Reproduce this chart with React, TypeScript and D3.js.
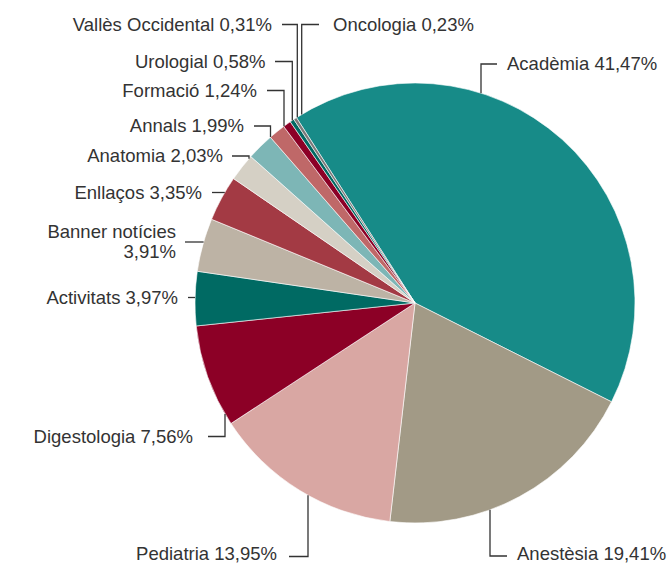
import React from 'react';
import * as d3 from 'd3';

// Slice data, clockwise from Acadèmia
const categories = [
  'Acadèmia', 'Anestèsia', 'Pediatria', 'Digestologia', 'Activitats',
  'Banner notícies', 'Enllaços', 'Anatomia', 'Annals', 'Formació',
  'Urologial', 'Vallès Occidental', 'Oncologia',
];
const values = [41.47, 19.41, 13.95, 7.56, 3.97, 3.91, 3.35, 2.03, 1.99, 1.24, 0.58, 0.31, 0.23];
const colors = [
  '#178b88', '#a29a86', '#d9a7a3', '#8c0026', '#006a63',
  '#bdb3a5', '#a33a44', '#d5d0c5', '#7db6b6', '#bf6868',
  '#8c0026', '#006a63', '#7a7a7a',
];

// label layout: text anchor x, line y, where the leader begins, elbow x (null = straight to pie)
const labelLayout = [
  { side: 'right', x: 507, y: 64, from: 497, elbow: 481 },
  { side: 'right', x: 517, y: 556, from: 507, elbow: 490, ty: 554 },
  { side: 'left', x: 277, y: 556.5, from: 289, elbow: 308, ty: 554 },
  { side: 'left', x: 193, y: 436.5, from: 208, elbow: 225 },
  { side: 'left', x: 178, y: 297.5, from: 188, elbow: null },
  { side: 'left', x: 176, y: 242, from: 185, elbow: null, lines: 2 },
  { side: 'left', x: 202, y: 192.5, from: 212, elbow: null },
  { side: 'left', x: 223, y: 156, from: 232, elbow: 249 },
  { side: 'left', x: 244, y: 126, from: 254, elbow: 270.5 },
  { side: 'left', x: 257, y: 90.5, from: 267, elbow: 284 },
  { side: 'left', x: 265.5, y: 61.5, from: 275, elbow: 292.3 },
  { side: 'left', x: 272, y: 24.5, from: 282, elbow: 297.3 },
  { side: 'right', x: 333, y: 24.5, from: 319, elbow: 301.7 },
];

const width = 668;
const height = 565;
const cx = 415;
const cy = 303;
const radius = 220;
const startAngle = (-32.6 * Math.PI) / 180;

const fmt = (v: number) => v.toFixed(2).replace('.', ',') + '%';

const App = () => {
  const pie = d3.pie<number>().sort(null).value(d => d)
    .startAngle(startAngle).endAngle(startAngle + 2 * Math.PI);
  const arcs = pie(values);
  const arc = d3.arc<d3.PieArcDatum<number>>().innerRadius(0).outerRadius(radius);
  const line = d3.line();

  const leader = (i: number): string => {
    const l = labelLayout[i];
    if (l.elbow === null) {
      const dy = l.y - cy;
      const edgeX = cx - Math.sqrt(radius * radius - dy * dy);
      return line([[l.from, l.y], [edgeX, l.y]]) as string;
    }
    const dx = l.elbow - cx;
    const h = Math.sqrt(radius * radius - dx * dx);
    const edgeY = l.y < cy ? cy - h : cy + h;
    return line([[l.from, l.y], [l.elbow, l.y], [l.elbow, edgeY]]) as string;
  };

  return (
    <svg width={width} height={height} style={{ position: 'absolute', left: 0, top: 0 }}
      fontFamily="'Liberation Sans', Arial, sans-serif">
      <g transform={`translate(${cx},${cy})`}>
        {arcs.map((a, i) => (
          <path key={i} d={arc(a) as string} fill={colors[i]} stroke="#fff" strokeWidth={0.6} />
        ))}
      </g>
      {categories.map((c, i) => (
        <path key={'l' + i} d={leader(i)} fill="none" stroke="#333" strokeWidth={1.3} />
      ))}
      {categories.map((c, i) => {
        const l = labelLayout[i];
        const anchor = l.side === 'right' ? 'start' : 'end';
        const ty = l.ty ?? l.y;
        if (l.lines === 2) {
          return (
            <text key={'t' + i} x={l.x} y={ty} textAnchor={anchor} fontSize={18.5} fill="#333">
              <tspan x={l.x} dy="-0.2em">{c}</tspan>
              <tspan x={l.x} dy="1.05em">{fmt(values[i])}</tspan>
            </text>
          );
        }
        return (
          <text key={'t' + i} x={l.x} y={ty} dy="0.35em" textAnchor={anchor} fontSize={18.5} fill="#333">
            {`${c} ${fmt(values[i])}`}
          </text>
        );
      })}
    </svg>
  );
};

export default App;
